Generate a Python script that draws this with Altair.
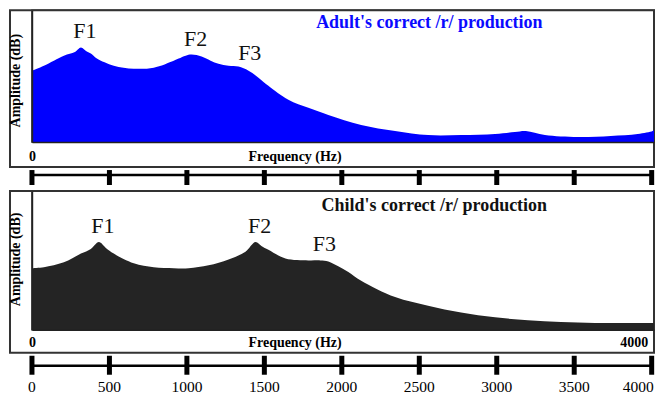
import altair as alt
import pandas as pd

# ---- data ----
adult_freq = [0, 77, 206, 277, 316, 354, 380, 419, 528, 657, 786, 915, 947, 992, 1031, 1095,
              1153, 1204, 1269, 1333, 1398, 1462, 1526, 1655, 1784, 1913, 2125, 2344, 2557,
              2770, 2989, 3117, 3188, 3311, 3523, 3736, 3910, 4006, 4015]
adult_amp = [54.2, 58.0, 65.6, 68.3, 71.8, 68.7, 67.2, 63.4, 58.0, 55.7, 56.5, 61.8, 63.4, 65.6,
             66.4, 64.9, 61.8, 59.5, 58.0, 57.3, 54.2, 48.9, 42.7, 32.1, 26.0, 20.6, 13.0, 8.4,
             5.3, 5.3, 6.1, 7.6, 8.4, 5.3, 3.8, 4.6, 6.1, 8.4, 9.2]

child_freq = [0, 77, 206, 316, 380, 432, 477, 528, 657, 786, 915, 1011, 1140, 1269, 1378, 1443,
              1481, 1526, 1636, 1784, 1861, 1913, 1977, 2042, 2125, 2344, 2557, 2770, 2989,
              3201, 3414, 3633, 3845, 4015]
child_amp = [44.4, 45.1, 48.6, 54.9, 58.3, 63.2, 59.0, 54.9, 47.9, 45.1, 44.4, 44.4, 46.5, 50.7,
             56.3, 63.2, 60.4, 57.6, 51.4, 50.0, 50.0, 49.3, 45.8, 41.7, 35.4, 23.6, 17.4, 12.5,
             9.0, 6.9, 5.6, 4.9, 4.9, 4.9]

formant_names = ["F1", "F2", "F3"]
adult_formant_hz = [316, 1031, 1380]
adult_formant_amp = [71.8, 66.4, 55.5]
child_formant_hz = [432, 1443, 1861]
child_formant_amp = [63.2, 63.2, 50.0]

tick_values = [0, 500, 1000, 1500, 2000, 2500, 3000, 3500, 4000]
tick_labels = ["0", "500", "1000", "1500", "2000", "2500", "3000", "3500", "4000"]

adult_title = "Adult's correct /r/ production"
child_title = "Child's correct /r/ production"

SERIF = "Liberation Serif"
W = 623
X_DOMAIN = [0, 4015]


def panel(freqs, amps, fill, f_hz, f_amp, title, title_color, height, axis_vals,
          box_bottom, tick_top, tick_bottom, line_y, title_x, title_y, ax_title_y,
          label_pad, numbers_y=None):
    spec = pd.DataFrame({"freq": freqs, "amp": amps})
    form = pd.DataFrame({"name": formant_names, "freq": f_hz, "amp": f_amp})
    ticks = pd.DataFrame({"tick": tick_values, "label": tick_labels})
    span = pd.DataFrame({"start": [tick_values[0]], "end": [tick_values[-1]]})
    one = pd.DataFrame({"t": [title]})

    xscale = alt.Scale(domain=X_DOMAIN, nice=False, zero=False)
    yscale = alt.Scale(domain=[0, 100], nice=False)

    box = alt.Chart(one).mark_rect(filled=False, stroke="#333333", strokeWidth=2).encode(
        x=alt.value(-22), x2=alt.value(W), y=alt.value(0), y2=alt.value(box_bottom))

    area = alt.Chart(spec).mark_area(color=fill, interpolate="catmull-rom").encode(
        x=alt.X("freq:Q", scale=xscale,
                axis=alt.Axis(values=axis_vals, format="d", title="Frequency (Hz)",
                              labelFont=SERIF, labelFontSize=14, labelFontWeight="bold",
                              labelColor="black", labelPadding=label_pad, ticks=False,
                              tickSize=0, grid=False, domain=True, domainColor="#222222",
                              domainWidth=1.5,
                              labelAlign=alt.condition("datum.value > 2000", alt.value("right"), alt.value("center")),
                              labelOffset=alt.condition("datum.value > 2000", alt.value(-4), alt.value(0)),
                              titleFont=SERIF, titleFontSize=14, titleFontWeight="bold",
                              titleColor="black", titleX=263, titleY=label_pad,
                              titleBaseline="top", titleAlign="center", zindex=1)),
        y=alt.Y("amp:Q", scale=yscale,
                axis=alt.Axis(title="Amplitude (dB)", labels=False, ticks=False, grid=False,
                              domain=True, domainColor="#222222", domainWidth=1.5,
                              titleFont=SERIF, titleFontSize=14, titleFontWeight="bold",
                              titleColor="black", titleAngle=270, titleX=-16,
                              titleY=ax_title_y, titleBaseline="middle",
                              titleAlign="center", zindex=1)),
    )

    flabels = alt.Chart(form).mark_text(font=SERIF, fontSize=22, color="#111111",
                                        baseline="alphabetic", dy=-9, dx=4).encode(
        x=alt.X("freq:Q", scale=xscale), y=alt.Y("amp:Q", scale=yscale), text="name:N")

    ttl = alt.Chart(one).mark_text(font=SERIF, fontSize=18, fontWeight="bold",
                                   color=title_color, align="center",
                                   baseline="middle").encode(
        x=alt.value(title_x), y=alt.value(title_y), text="t:N")

    ruler_line = alt.Chart(span).mark_rule(color="black", strokeWidth=2.5).encode(
        x=alt.X("start:Q", scale=xscale), x2="end:Q", y=alt.value(line_y))
    ruler_ticks = alt.Chart(ticks).mark_rule(color="black", strokeWidth=5).encode(
        x=alt.X("tick:Q", scale=xscale), y=alt.value(tick_top), y2=alt.value(tick_bottom))

    layers = [box, area, flabels, ttl, ruler_line, ruler_ticks]
    if numbers_y is not None:
        last = tick_values[-1]
        nums = alt.Chart(ticks).transform_filter(f"datum.tick < {last}").mark_text(
            font=SERIF, fontSize=15.5, color="black", baseline="middle").encode(
            x=alt.X("tick:Q", scale=xscale), y=alt.value(numbers_y), text="label:N")
        nums_last = alt.Chart(ticks).transform_filter(f"datum.tick == {last}").mark_text(
            font=SERIF, fontSize=15.5, color="black", baseline="middle", align="right",
            dx=2).encode(
            x=alt.X("tick:Q", scale=xscale), y=alt.value(numbers_y), text="label:N")
        layers += [nums, nums_last]
    return alt.layer(*layers).properties(width=W, height=height)


top = panel(adult_freq, adult_amp, "#0000ff", adult_formant_hz, adult_formant_amp,
            adult_title, "#0a0aff", 132, [0], 157, 160, 175, 165, 398, 13, 70, 7)
bottom = panel(child_freq, child_amp, "#242424", child_formant_hz, child_formant_amp,
               child_title, "#111111", 139, [0, 4000], 162, 165, 184, 175, 403, 15, 68, 6,
               numbers_y=196)

chart = alt.vconcat(top, bottom, spacing=0).properties(padding=0).configure_view(
    stroke="#222222", strokeWidth=1.5)

chart.save("out.html", embed_options={"renderer": "svg", "actions": False})
